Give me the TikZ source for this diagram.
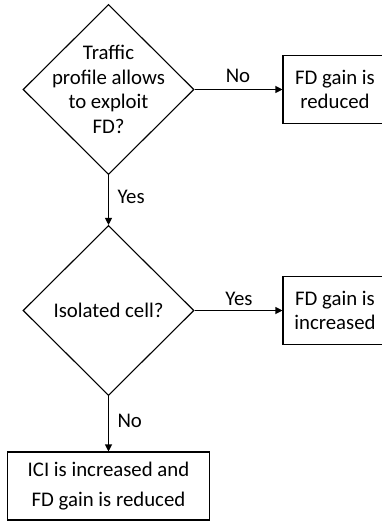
\documentclass[tikz,border=0pt]{standalone}
\usepackage{fontspec}
\setmainfont{Carlito}
\usetikzlibrary{arrows.meta, shapes.geometric}
\tikzset{
  every picture/.style={font=\fontsize{20.8bp}{24.7bp}\selectfont, line width=1.1bp, x=1bp, y=-1bp},
  decision/.style={draw, diamond, minimum width=171bp, minimum height=170bp, inner sep=0pt},
  qtext/.style={align=center, inner sep=0pt},
  box/.style={draw, rectangle, align=center, minimum width=#1, minimum height=68bp, inner sep=0pt},
  box/.default=104bp,
  arrow/.style={-{Triangle[length=7bp, width=7bp]}},
  note/.style={anchor=base, inner sep=0pt},
}
\begin{document}
\begin{tikzpicture}
  \useasboundingbox (0,0) rectangle (381,522);
  % first question
  \node[decision] (q1) at (108.5,89.5) {};
  \node[qtext] (q1text) at (q1) {Traffic\\profile allows\\to exploit\\FD?};
  \node[box] (r1) at (335,89.5) {FD gain is\\reduced};
  \draw[arrow] (q1.east) -- (r1.west);
  \node[note] (no1) at (238,83) {No};
  % second question
  \node[decision] (q2) at (108.5,310.5) {};
  \node[qtext] (q2text) at (q2) {Isolated cell?};
  \node[box] (r2) at (335,310.5) {FD gain is\\increased};
  \draw[arrow] (q1.south) -- (q2.north);
  \node[note, anchor=base west] (yes1) at (117,204) {Yes};
  \draw[arrow] (q2.east) -- (r2.west);
  \node[note] (yes2) at (239,305) {Yes};
  % outcome below
  \node[box=202bp] (r3) at (108.5,486) {ICI is increased and\\[4.5bp]FD gain is reduced};
  \draw[arrow] (q2.south) -- (r3.north);
  \node[note, anchor=base west] (no2) at (117,427) {No};
\end{tikzpicture}
\end{document}
